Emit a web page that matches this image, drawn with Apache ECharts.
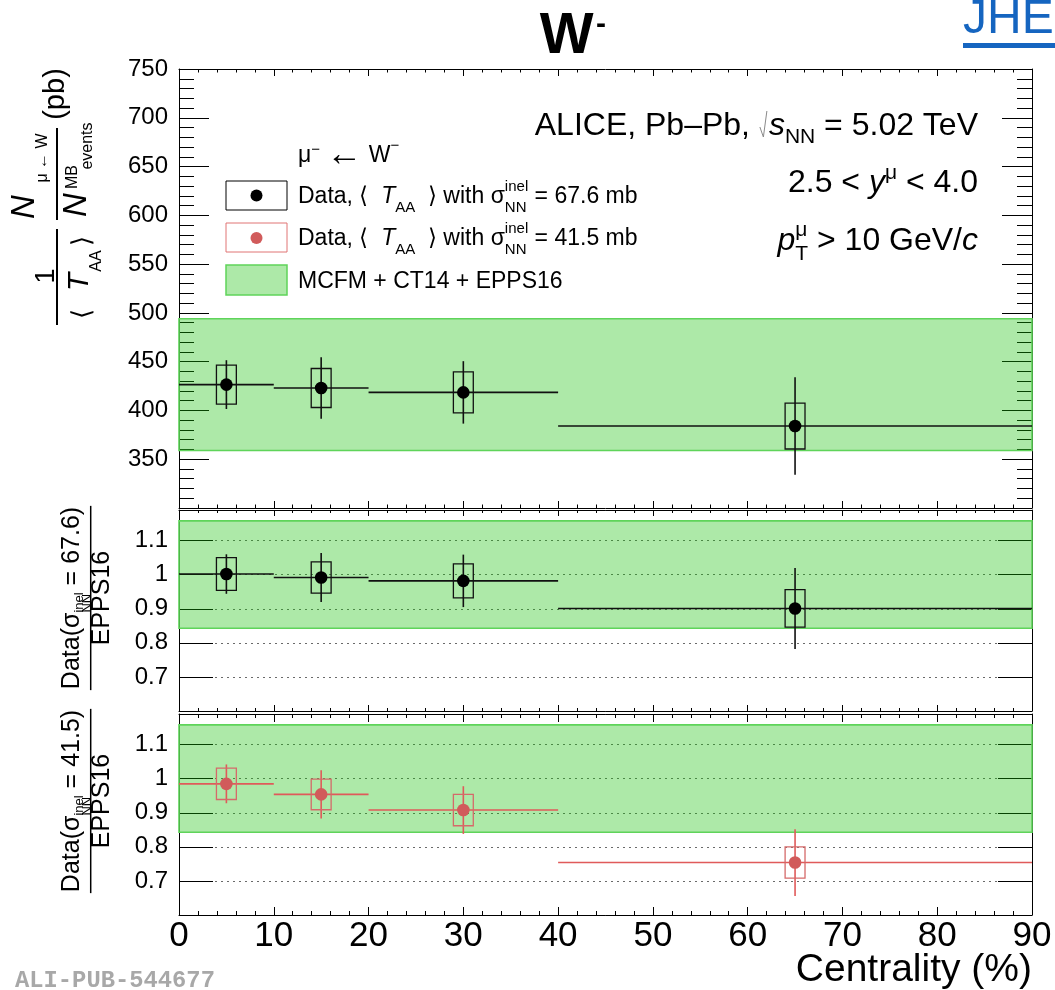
<!DOCTYPE html>
<html>
<head>
<meta charset="utf-8">
<script src="https://cdn.jsdelivr.net/npm/echarts@6/dist/echarts.min.js"></script>
<style>
  html, body { margin: 0; padding: 0; background: #fff; }
  #chart { width: 1055px; height: 990px; }
</style>
</head>
<body>
<div id="chart"></div>
<script>
// Centrality classes (%) and their centres
const centEdges = [[0, 10], [10, 20], [20, 40], [40, 90]];
const centMid = [5, 15, 30, 65];

// Normalised mu- <- W- yields (pb), with statistical and systematic uncertainties
const yieldVal = [426.5, 423, 418.5, 384];
const yieldStat = [25, 31.5, 32, 50];
const yieldSyst = [20, 20, 21, 23.5];

// Data / (MCFM + CT14 + EPPS16), <T_AA> from sigma_inel = 67.6 mb
const ratio676 = [1.002, 0.992, 0.982, 0.901];
const ratio676Stat = [0.058, 0.072, 0.077, 0.119];
const ratio676Syst = [0.048, 0.046, 0.05, 0.055];

// Data / (MCFM + CT14 + EPPS16), <T_AA> from sigma_inel = 41.5 mb
const ratio415 = [0.985, 0.954, 0.908, 0.754];
const ratio415Stat = [0.057, 0.071, 0.07, 0.098];
const ratio415Syst = [0.046, 0.045, 0.046, 0.046];

// Theory band (lower, upper)
const modelYieldBand = [359, 494];
const modelRatioBand = [0.843, 1.158];

// Tick labels
const centTicks = [0, 10, 20, 30, 40, 50, 60, 70, 80, 90];
const yieldTicks = [350, 400, 450, 500, 550, 600, 650, 700, 750];
const ratioTicks = [0.7, 0.8, 0.9, 1, 1.1];
const sigmaInel = ['67.6', '41.5'];

const FONT = '"Liberation Sans", Arial, Helvetica, sans-serif';
const K = 0.31;               // baseline -> em-middle offset (fraction of font size)
const BAND_FILL = 'rgba(21,192,6,0.35)';
const BAND_EDGE = '#5fd45a';
const BOX_HALF = 1.05;        // half width of the systematic boxes (centrality units)

const mctx = document.createElement('canvas').getContext('2d');
function textWidth(s, size, italic) {
  mctx.font = (italic ? 'italic ' : '') + size + 'px ' + FONT;
  return mctx.measureText(s).width;
}

// horizontal text placed by its left (or right) edge and baseline
function txt(x, base, s, size, o) {
  o = o || {};
  return {
    type: 'text', x: x, y: base - K * size, z: 100, silent: true,
    style: {
      text: s, fontSize: size, fontFamily: o.family || FONT,
      fontStyle: o.italic ? 'italic' : 'normal',
      fontWeight: o.bold ? 'bold' : 'normal',
      fill: o.color || '#000', align: o.align || 'left', verticalAlign: 'middle'
    }
  };
}
// vertical (reads bottom to top) text centred on (cx, cy)
function rtxt(cx, cy, s, size, o) {
  o = o || {};
  return {
    type: 'text', x: cx, y: cy, rotation: Math.PI / 2, z: 100, silent: true,
    style: {
      text: s, fontSize: size, fontFamily: FONT,
      fontStyle: o.italic ? 'italic' : 'normal',
      fill: '#000', align: 'center', verticalAlign: 'middle'
    }
  };
}
function vline(x, y1, y2, w) {
  return { type: 'line', z: 100, silent: true, shape: { x1: x, y1: y1, x2: x, y2: y2 }, style: { stroke: '#000', lineWidth: w || 1.5 } };
}

// a run of text pieces (with sub/superscripts) laid out left to right
function chainRow(x, base, parts, align) {
  let pos = 0, stackW = 0;
  const placed = [];
  parts.forEach(p => {
    const w = p.gap != null ? p.gap : textWidth(p.t, p.size, p.italic);
    placed.push({ p: p, x: pos });
    if (p.stack) { stackW = w; } else { pos += Math.max(w, stackW); stackW = 0; }
  });
  const start = align === 'right' ? x - pos : x;
  const els = [];
  placed.forEach(q => {
    const px = start + q.x;
    if (q.p.sqrt) {
      els.push({ type: 'polyline', z: 100, silent: true,
        shape: { points: [[px + 1, base - 9], [px + 4.5, base + 1], [px + 8, base - 25]] },
        style: { stroke: '#8a8a8a', lineWidth: 1, fill: null } });
    } else {
      els.push(txt(px, base + (q.p.dy || 0), q.p.t, q.p.size, { italic: q.p.italic }));
    }
  });
  return els;
}

// Data / EPPS16 title laid out along the vertical direction
function ratioTitle(cy, sig) {
  const S = 25, s = 13;
  const parts = [
    { t: 'Data(', size: S, base: 80 },
    { t: 'σ', size: S, base: 80 },
    { t: 'inel', size: s, base: 83, stack: true },
    { t: 'NN', size: s, base: 91 },
    { t: ' = ' + sig + ')', size: S, base: 80 }
  ];
  let x = 0, stackW = 0;
  const placed = [];
  parts.forEach(p => {
    const w = textWidth(p.t, p.size, false);
    placed.push({ p: p, x: x });
    if (p.stack) { stackW = w; } else { x += Math.max(w, stackW); stackW = 0; }
  });
  const total = x;
  const children = placed.map(q => txt(q.x - total / 2, q.p.base, q.p.t, q.p.size));
  children.push({ type: 'line', z: 100, shape: { x1: -total / 2 - 1, y1: 90.7, x2: total / 2 + 1, y2: 90.7 }, style: { stroke: '#000', lineWidth: 1.5 } });
  children.push(txt(0, 110, 'EPPS16', S, { align: 'center' }));
  return { type: 'group', x: 0, y: cy, rotation: Math.PI / 2, children: children };
}

// ---------- axes ----------
const grids = [
  { left: 179, right: 23, top: 69, height: 439 },
  { left: 179, right: 23, top: 510, height: 201 },
  { left: 179, right: 23, top: 714, height: 201 }
];

function xAxes(g, showLabels, tickLen) {
  const base = {
    gridIndex: g, type: 'value', min: 0, max: 90, interval: 10,
    axisLine: { show: true, onZero: false, lineStyle: { color: '#000', width: 1 } },
    axisTick: { show: true, inside: true, length: tickLen, lineStyle: { color: '#000', width: 1 } },
    minorTick: { show: true, splitNumber: 5, length: tickLen / 2, lineStyle: { color: '#000', width: 1 } },
    splitLine: { show: false }
  };
  return [
    Object.assign({}, base, {
      position: 'bottom',
      axisLabel: {
        show: showLabels, fontSize: 35, fontFamily: FONT, color: '#000', margin: 4,
        formatter: v => centTicks.includes(Math.round(v)) ? String(Math.round(v)) : ''
      }
    }),
    Object.assign({}, base, { position: 'top', axisLabel: { show: false } })
  ];
}

function yAxes(g, cfg) {
  const base = {
    gridIndex: g, type: 'value', min: cfg.min, max: cfg.max, interval: cfg.interval,
    axisLine: { show: true, onZero: false, lineStyle: { color: '#000', width: 1 } },
    axisTick: { show: true, inside: true, length: cfg.major, lineStyle: { color: '#000', width: 1 } },
    minorTick: { show: cfg.minor > 0, splitNumber: 5, length: cfg.minor, lineStyle: { color: '#000', width: 1 } }
  };
  return [
    Object.assign({}, base, {
      position: 'left',
      splitLine: { show: cfg.dotted, lineStyle: { color: '#6a6a6a', width: 1, type: [2, 4] } },
      axisLabel: {
        show: true, fontSize: 24, fontFamily: FONT, color: '#000', margin: 11,
        formatter: v => {
          const r = Math.round(v * 100) / 100;
          return cfg.ticks.includes(r) ? String(r) : '';
        }
      }
    }),
    Object.assign({}, base, { position: 'right', splitLine: { show: false }, axisLabel: { show: false } })
  ];
}

// ---------- series ----------
function bandSeries(g, band) {
  return {
    type: 'custom', xAxisIndex: 2 * g, yAxisIndex: 2 * g, z: 2, silent: true,
    encode: { x: [0, 1], y: [2, 3] },
    data: [[0, 90, band[0], band[1]]],
    renderItem(params, api) {
      const a = api.coord([api.value(0), api.value(3)]);
      const b = api.coord([api.value(1), api.value(2)]);
      return {
        type: 'rect',
        shape: { x: a[0], y: a[1], width: b[0] - a[0], height: b[1] - a[1] },
        style: { fill: BAND_FILL, stroke: BAND_EDGE, lineWidth: 1.6 }
      };
    }
  };
}

function pointSeries(g, vals, stat, syst, col) {
  const data = centMid.map((c, i) => [c, vals[i], centEdges[i][0], centEdges[i][1], stat[i], syst[i]]);
  return {
    type: 'custom', xAxisIndex: 2 * g, yAxisIndex: 2 * g, z: 5, silent: true,
    encode: { x: 0, y: 1 },
    data: data,
    renderItem(params, api) {
      const x = api.value(0), y = api.value(1);
      const p = api.coord([x, y]);
      const xl = api.coord([api.value(2), y]);
      const xr = api.coord([api.value(3), y]);
      const st = api.coord([x, y + api.value(4)]);
      const sb = api.coord([x, y - api.value(4)]);
      const b1 = api.coord([x - BOX_HALF, y + api.value(5)]);
      const b2 = api.coord([x + BOX_HALF, y - api.value(5)]);
      return {
        type: 'group',
        children: [
          { type: 'line', shape: { x1: xl[0], y1: p[1], x2: xr[0], y2: p[1] }, style: { stroke: col.line, lineWidth: 1.6 } },
          { type: 'line', shape: { x1: p[0], y1: st[1], x2: p[0], y2: sb[1] }, style: { stroke: col.line, lineWidth: 1.6 } },
          { type: 'rect', shape: { x: b1[0], y: b1[1], width: b2[0] - b1[0], height: b2[1] - b1[1] }, style: { fill: 'none', stroke: col.box, lineWidth: 1.3 } },
          { type: 'circle', shape: { cx: p[0], cy: p[1], r: 6.3 }, style: { fill: col.dot } }
        ]
      };
    }
  };
}

const BLACK = { dot: '#000', line: '#111', box: '#111' };
const RED = { dot: '#d15b5b', line: '#e05a5a', box: '#d56a6a' };

// ---------- text and legend ----------
const RT = 32, RS = 21;                // label block font sizes
const B1 = 136, B2 = 193, B3 = 251;    // baselines of the label block at the top right
const graphics = [
  // title
  txt(566.7, 55, 'W', 57, { bold: true, align: 'center' }),
  txt(601, 34, '-', 30, { bold: true, align: 'center' }),
  // journal mark
  txt(963, 35, 'JHEP', 48, { color: '#1565c0' }),
  { type: 'rect', z: 100, shape: { x: 963, y: 43, width: 95, height: 5 }, style: { fill: '#1565c0' } },
  // figure id
  txt(15, 988, 'ALI-PUB-544677', 23.8, { bold: true, family: '"Liberation Mono", "DejaVu Sans Mono", monospace', color: '#a8a8a8' }),
  // x title
  txt(1032, 982, 'Centrality (%)', 39, { align: 'right' }),

  // legend swatches
  { type: 'rect', z: 100, shape: { x: 226, y: 181, width: 61, height: 29 }, style: { fill: '#fff', stroke: '#000', lineWidth: 1 } },
  { type: 'circle', z: 101, shape: { cx: 256.5, cy: 195.5, r: 6 }, style: { fill: BLACK.dot } },
  { type: 'rect', z: 100, shape: { x: 226, y: 223, width: 61, height: 29 }, style: { fill: '#fff', stroke: '#e07575', lineWidth: 1 } },
  { type: 'circle', z: 101, shape: { cx: 256.5, cy: 238, r: 6 }, style: { fill: RED.dot } },
  { type: 'rect', z: 100, shape: { x: 226, y: 265, width: 61, height: 30 }, style: { fill: '#ade9a8', stroke: BAND_EDGE, lineWidth: 1.5 } },

  txt(298, 289, 'MCFM + CT14 + EPPS16', 23),

  // vertical axis titles
  rtxt(47, 276, '1', 27),
  vline(57, 229, 325, 2),
  rtxt(83, 314, '⟨', 26),
  rtxt(80, 282, 'T', 30, { italic: true }),
  rtxt(97, 261, 'AA', 16),
  rtxt(83, 241, '⟩', 26),
  rtxt(25, 207, 'N', 33, { italic: true }),
  rtxt(43, 158, 'μ ← W', 16),
  vline(57, 128, 220, 2),
  rtxt(77, 205, 'N', 33, { italic: true }),
  rtxt(73, 177, 'MB', 16),
  rtxt(88, 146, 'events', 16),
  rtxt(56, 94, '(pb)', 29),

  ratioTitle(598, sigmaInel[0]),
  ratioTitle(801, sigmaInel[1])
].concat(
  // collision system and kinematic selection
  chainRow(978, B1, [
    { t: 'ALICE, Pb–Pb, ', size: RT },
    { sqrt: true, gap: 10 },
    { t: 's', size: RT, italic: true },
    { t: 'NN', size: RS, dy: 8 },
    { t: ' = 5.02 TeV', size: RT }
  ], 'right'),
  chainRow(978, B2, [
    { t: '2.5 < ', size: RT },
    { t: 'y', size: RT, italic: true },
    { t: 'μ', size: RS, dy: -13 },
    { t: ' < 4.0', size: RT }
  ], 'right'),
  chainRow(978, B3, [
    { t: 'p', size: RT, italic: true },
    { t: 'μ', size: RS, dy: -14, stack: true },
    { t: 'T', size: RS, dy: 10 },
    { t: ' > 10 GeV/', size: RT },
    { t: 'c', size: RT, italic: true }
  ], 'right'),
  // legend header
  chainRow(298, 163, [
    { t: 'μ', size: 23 },
    { t: '−', size: 15, dy: -8 },
    { t: ' ', size: 23 },
    { t: '←', size: 36, dy: 3 },
    { t: ' ', size: 23 },
    { t: 'W', size: 23 },
    { t: '−', size: 15, dy: -12 }
  ], 'left')
);

// legend entries with <T_AA> and sigma_inel, one per data set
[[204, sigmaInel[0]], [246, sigmaInel[1]]].forEach(([b, sig]) => {
  chainRow(298, b, [
    { t: 'Data, ', size: 23 },
    { t: '⟨  ', size: 23 },
    { t: 'T', size: 23, italic: true },
    { t: 'AA', size: 15, dy: 9 },
    { t: '  ⟩ with ', size: 23 },
    { t: 'σ', size: 23 },
    { t: 'inel', size: 15, dy: -12, stack: true },
    { t: 'NN', size: 15, dy: 9 },
    { t: ' = ' + sig + ' mb', size: 23 }
  ], 'left').forEach(e => graphics.push(e));
});

const chart = echarts.init(document.getElementById('chart'), null, { renderer: 'canvas' });
chart.setOption({
  animation: false,
  backgroundColor: '#fff',
  grid: grids,
  xAxis: [].concat(xAxes(0, false, 7), xAxes(1, false, 6), xAxes(2, true, 8)),
  yAxis: [].concat(
    yAxes(0, { min: 300, max: 750, interval: 50, major: 30, minor: 15, dotted: false, ticks: yieldTicks }),
    yAxes(1, { min: 0.6, max: 1.19, interval: 0.1, major: 34, minor: 0, dotted: true, ticks: ratioTicks }),
    yAxes(2, { min: 0.6, max: 1.19, interval: 0.1, major: 34, minor: 0, dotted: true, ticks: ratioTicks })
  ),
  series: [
    bandSeries(0, modelYieldBand),
    bandSeries(1, modelRatioBand),
    bandSeries(2, modelRatioBand),
    pointSeries(0, yieldVal, yieldStat, yieldSyst, BLACK),
    pointSeries(1, ratio676, ratio676Stat, ratio676Syst, BLACK),
    pointSeries(2, ratio415, ratio415Stat, ratio415Syst, RED)
  ],
  graphic: { elements: graphics }
});
</script>
</body>
</html>
